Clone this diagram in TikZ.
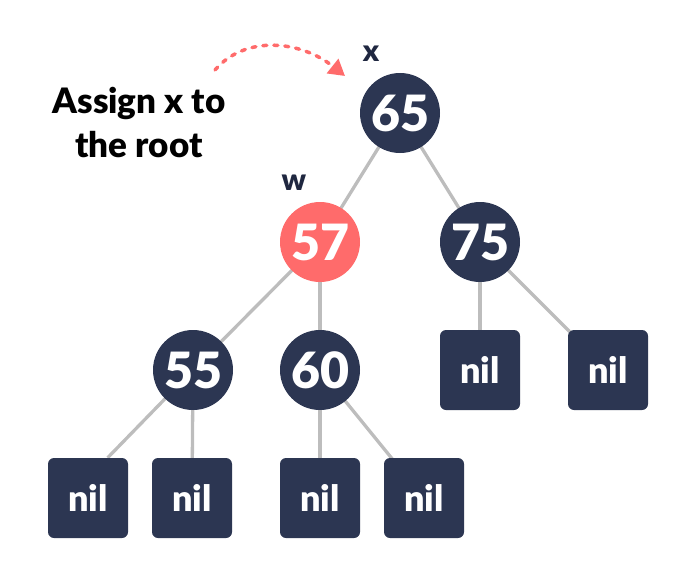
\documentclass[tikz,border=0pt]{standalone}
\usepackage{fontspec}
\setmainfont{Lato}
\newfontfamily\latoblack{Lato Black}
\usetikzlibrary{arrows.meta}
\pgfdeclarelayer{background}
\pgfsetlayers{background,main}
\definecolor{navy}{HTML}{2C3652}
\definecolor{redn}{HTML}{FF6B6B}
\definecolor{edgegray}{HTML}{BDBDBD}
\definecolor{lblnavy}{HTML}{1F2740}
\begin{document}
\begin{tikzpicture}[x=1pt,y=-1pt,
  treenode/.style={circle, fill=navy, minimum size=80pt, inner sep=0pt, text=white, font=\fontsize{50}{50}\selectfont\latoblack},
  redtreenode/.style={treenode, fill=redn},
  nilbox/.style={rectangle, rounded corners=6pt, fill=navy, minimum size=80pt, inner sep=0pt, text=white, font=\fontsize{36}{36}\selectfont\latoblack},
  treeedge/.style={draw=edgegray, line width=3.3pt},
  varlabel/.style={text=lblnavy, font=\fontsize{30}{30}\selectfont\latoblack},
  note/.style={align=center, font=\fontsize{35}{44}\selectfont\latoblack, text=black},
  pointer/.style={draw=redn, line width=3.5pt, dash pattern=on 4pt off 7pt, line cap=round, -{Triangle[length=16pt,width=18pt]}}]
\useasboundingbox (0,0) rectangle (696,586);

\node[treenode] (n65) at (400,113) {65};
\node[redtreenode] (n57) at (320,242) {57};
\node[treenode] (n75) at (480,242) {75};
\node[treenode] (n55) at (193,370) {55};
\node[treenode] (n60) at (320,370) {60};
\node[nilbox] (nilA) at (88,498) {nil};
\node[nilbox] (nilB) at (192,498) {nil};
\node[nilbox] (nilC) at (320,498) {nil};
\node[nilbox] (nilD) at (424,498) {nil};
\node[nilbox] (nilE) at (480,370) {nil};
\node[nilbox] (nilF) at (608,370) {nil};

\begin{pgfonlayer}{background}
\draw[treeedge] (n65.center) -- (n57.center);
\draw[treeedge] (n65.center) -- (n75.center);
\draw[treeedge] (n57.center) -- (n55.center);
\draw[treeedge] (n57.center) -- (n60.center);
\draw[treeedge] (n55.center) -- (nilA.64);
\draw[treeedge] (n55.center) -- (nilB.center);
\draw[treeedge] (n60.center) -- (nilC.center);
\draw[treeedge] (n60.center) -- (nilD.center);
\draw[treeedge] (n75.center) -- (nilE.center);
\draw[treeedge] (n75.center) -- (nilF.center);
\end{pgfonlayer}

\node[varlabel] (lx) at (371,54) {x};
\node[varlabel] (lw) at (294,183) {w};
\node[note] (txt) at (139,122) {Assign x to\\the root};

\coordinate (arrS) at (215,70);
\coordinate (arrE) at (345,76);
\draw[pointer] (arrS) .. controls (245,35) and (300,40) .. (arrE);
\end{tikzpicture}
\end{document}
